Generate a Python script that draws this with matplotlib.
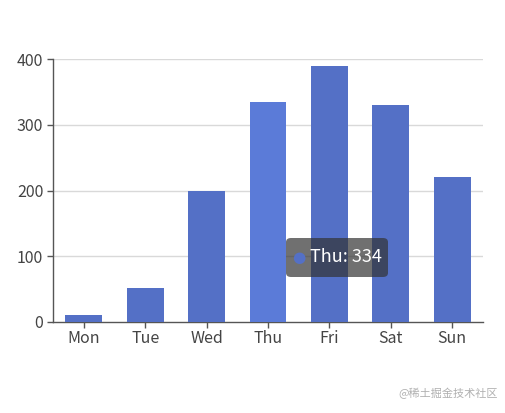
import matplotlib
matplotlib.use("Agg")
import matplotlib.pyplot as plt
from matplotlib.patches import FancyBboxPatch

plt.rcParams['font.family'] = ['Noto Sans CJK SC', 'DejaVu Sans']

categories = ['Mon', 'Tue', 'Wed', 'Thu', 'Fri', 'Sat', 'Sun']
values = [10, 52, 200, 334, 390, 330, 220]
yticks = [0, 100, 200, 300, 400]
highlight = 'Thu'

fig = plt.figure(figsize=(5.06, 4.13), dpi=100)
ax = fig.add_axes([53/506, 1 - 322/413, 430/506, 263/413])

colors = ['#5b7bd8' if c == highlight else '#5470c6' for c in categories]
x = range(len(categories))
ax.bar(x, values, width=0.6, color=colors, zorder=3)

ax.set_xlim(-0.5, len(categories) - 0.5)
ax.set_ylim(0, 400)
ax.set_yticks(yticks)
ax.set_xticks(list(x))
ax.set_xticklabels(categories)

for y in yticks[1:]:
    ax.axhline(y, color='#d9d9d9', lw=1, zorder=1)

for s in ['top', 'right']:
    ax.spines[s].set_visible(False)
for s in ['left', 'bottom']:
    ax.spines[s].set_color('#555555')
    ax.spines[s].set_linewidth(1)

ax.tick_params(axis='both', colors='#555555', labelcolor='#444444', labelsize=11.5, length=4, width=1)
ax.tick_params(axis='x', pad=2)
ax.tick_params(axis='y', pad=3)

# tooltip
hi = categories.index(highlight)
tip = FancyBboxPatch((286/506, 1 - 277/413), 102/506, 39/413,
                     boxstyle='round,pad=0,rounding_size=0.01',
                     transform=fig.transFigure, facecolor=(0.2, 0.2, 0.2, 0.7),
                     edgecolor='none', zorder=10)
fig.patches.append(tip)
fig.text(299/506, 1 - 257.5/413, '●', color='#5470c6', fontsize=11, ha='center', va='center', zorder=11,
         family='DejaVu Sans')
fig.text(310/506, 1 - 257/413, f'{highlight}: {values[hi]}', color='white', fontsize=13,
         ha='left', va='center', zorder=11)

fig.text(498/506, 1 - 393/413, '@稀土掘金技术社区', color='#b0b0b0', fontsize=8,
         ha='right', va='center')

fig.savefig('out.png', dpi=100)
